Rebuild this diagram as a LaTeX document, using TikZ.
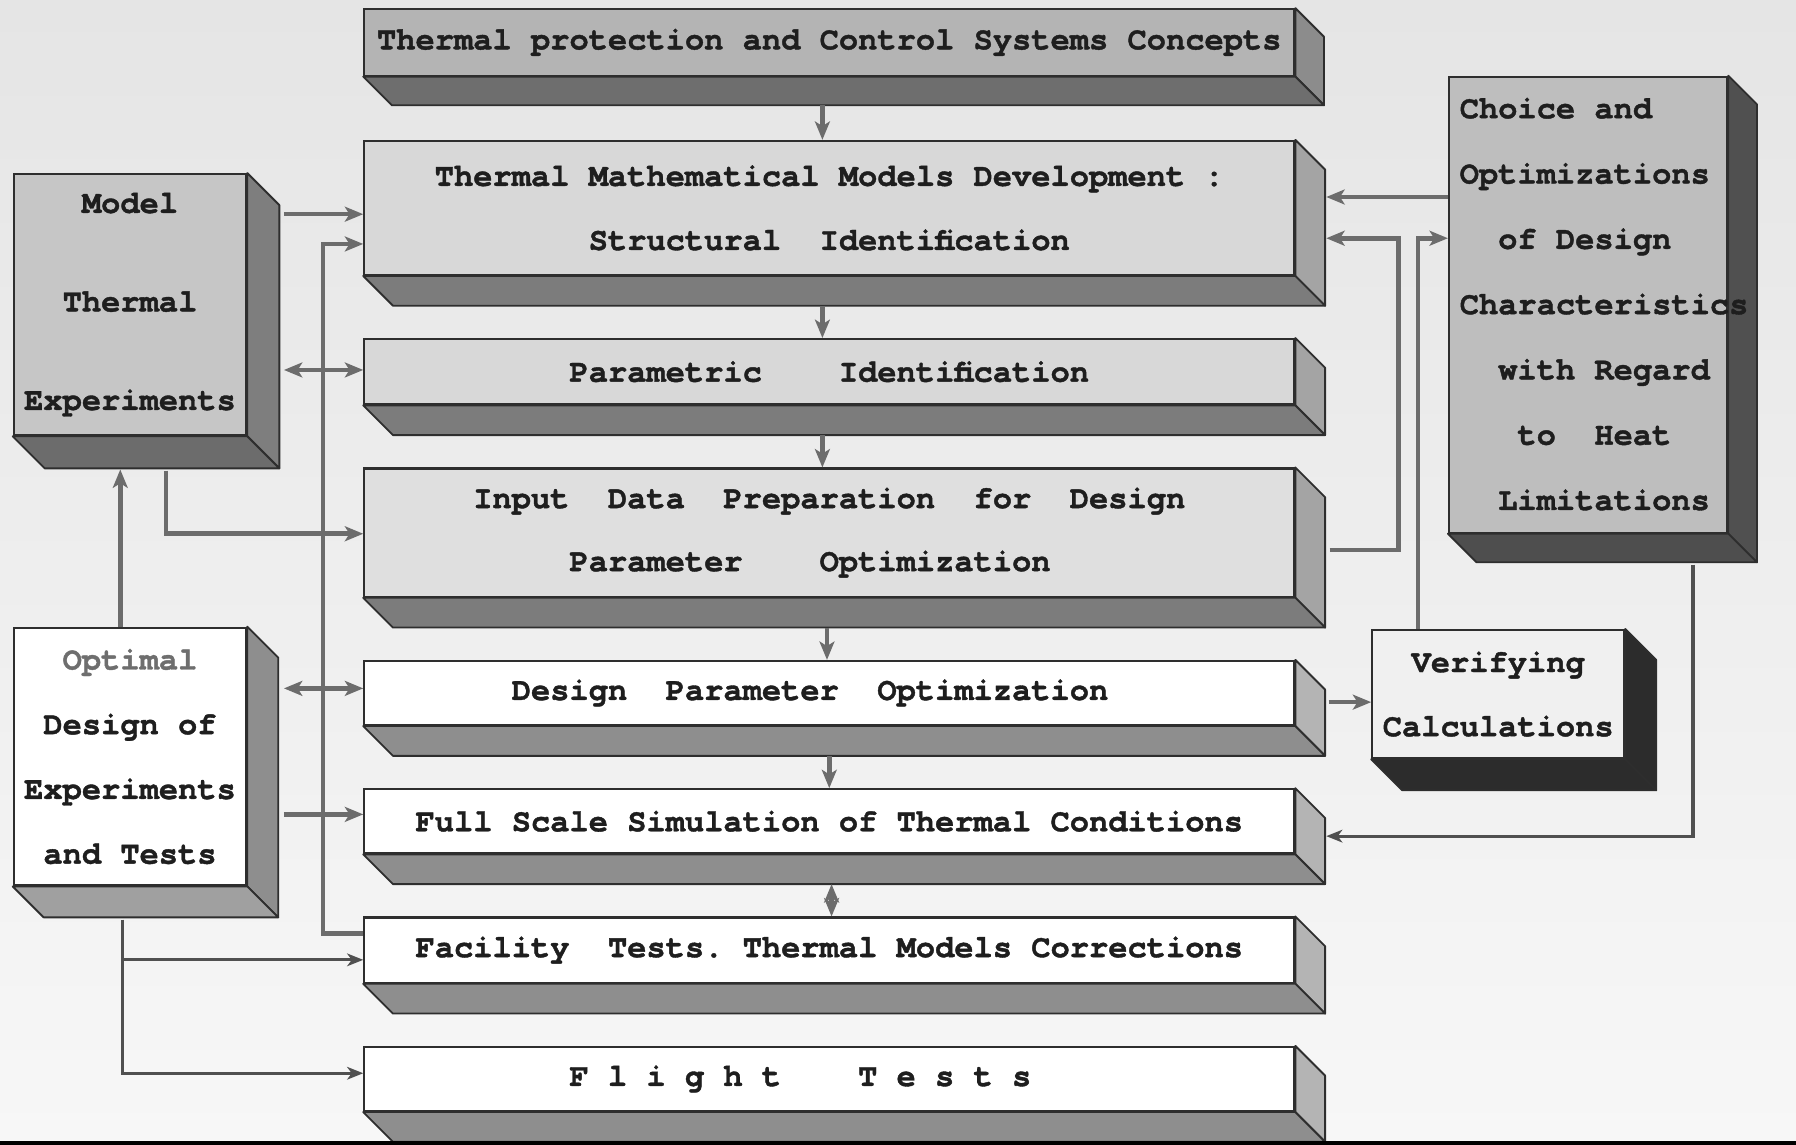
\documentclass[tikz,border=0pt]{standalone}
\usepackage{fontspec}
\setmonofont[BoldFeatures={FakeBold=1.2}]{TeX Gyre Cursor}
\usetikzlibrary{arrows.meta,calc}
\definecolor{bgtop}{HTML}{E5E5E5}
\definecolor{bgbot}{HTML}{F7F7F7}
\definecolor{ink}{HTML}{1E1E1E}
\definecolor{edge}{HTML}{2E2E2E}
\definecolor{agray}{HTML}{6C6C6C}
\definecolor{adark}{HTML}{505050}
\definecolor{optg}{HTML}{6E6E6E}
\definecolor{tzf}{HTML}{B4B4B4}
\definecolor{tzr}{HTML}{8C8C8C}
\definecolor{tzb}{HTML}{6E6E6E}
\definecolor{tf}{HTML}{D8D8D8}
\definecolor{tfc}{HTML}{DFDFDF}
\definecolor{tr}{HTML}{A4A4A4}
\definecolor{tb}{HTML}{7C7C7C}
\definecolor{lof}{HTML}{C6C6C6}
\definecolor{lor}{HTML}{7E7E7E}
\definecolor{lob}{HTML}{6C6C6C}
\definecolor{rof}{HTML}{BEBEBE}
\definecolor{ror}{HTML}{505050}
\definecolor{rob}{HTML}{4E4E4E}
\definecolor{br}{HTML}{B4B4B4}
\definecolor{bb}{HTML}{8E8E8E}
\definecolor{ltr}{HTML}{8E8E8E}
\definecolor{ltb}{HTML}{A0A0A0}
\definecolor{rtf}{HTML}{F0F0F0}
\definecolor{rts}{HTML}{2C2C2C}
\newcommand\slabsides[4]{%
  \filldraw[fill=#3, draw=edge, line width=0.8pt, line join=round]
    (#1.north east) -- ++(#2,#2) -- ($(#1.south east)+(#2,#2)$) -- (#1.south east) -- cycle;
  \filldraw[fill=#4, draw=edge, line width=0.8pt, line join=round]
    (#1.south west) -- (#1.south east) -- ($(#1.south east)+(#2,#2)$) -- ($(#1.south west)+(#2,#2)$) -- cycle;}
\begin{document}
\begin{tikzpicture}[x=0.5pt,y=-0.5pt,
  face/.style={draw=edge, line width=0.9pt, inner sep=0pt, text=ink, align=center,
    font=\ttfamily\bfseries\fontsize{14}{28}\selectfont},
  lsp/.style={font=\ttfamily\bfseries\fontsize{14}{#1}\selectfont},
  wide/.style={face, minimum width=406pt},
  arr/.style={draw=agray, line width=2pt, -{Stealth[length=8pt,width=6.5pt,inset=2pt]}},
  darr/.style={draw=agray, line width=2pt, {Stealth[length=8pt,width=6.5pt,inset=2pt]}-{Stealth[length=8pt,width=6.5pt,inset=2pt]}},
  fline/.style={draw=agray, line width=2pt},
  thinarr/.style={draw=adark, line width=1.4pt, -{Stealth[length=7pt,width=5.5pt,inset=2pt]}},
  thinline/.style={draw=adark, line width=1.4pt}]
\useasboundingbox (0,0) rectangle (1568,999);
\shade[top color=bgtop, bottom color=bgbot] (0,0) rectangle (1568,999);

% central column
\node[wide, minimum height=29pt, fill=tzf] (t0) at (724,37) {Thermal protection and Control Systems Concepts};
\node[wide, minimum height=58.5pt, fill=tf] (t1) at (724,181.5) {Thermal Mathematical Models Development :\\Structural~~Identification};
\node[wide, minimum height=28.5pt, fill=tf] (t2) at (724,324.5) {Parametric~~~~Identification};
\node[wide, minimum height=56pt, fill=tfc, lsp=27.5pt] (t3) at (724,465) {Input~~Data~~Preparation~~for~~Design\\Parameter~~~~Optimization\hspace*{16.8pt}};
\node[wide, minimum height=28pt, fill=white] (b1) at (724,605) {Design~~Parameter~~Optimization\hspace*{16.8pt}};
\node[wide, minimum height=28pt, fill=white] (b2) at (724,717) {Full Scale Simulation of Thermal Conditions};
\node[wide, minimum height=28.5pt, fill=white] (b3) at (724,829.5) {Facility~~Tests.~Thermal Models Corrections};
\node[wide, minimum height=28pt, fill=white] (b4) at (724,942) {F l i g h t~~~~T e s t s\hspace*{25.2pt}};

% left column
\node[face, minimum width=101.5pt, minimum height=114pt, fill=lof, lsp=43pt] (l1) at (113.5,266) {Model\\Thermal\\Experiments};
\node[face, minimum width=101.5pt, minimum height=112.5pt, fill=white, lsp=28.25pt] (l2) at (113.5,660.5) {\textcolor{optg}{Optimal}\\Design of\\Experiments\\and Tests};

% right column
\node[face, minimum width=121.5pt, minimum height=199pt, fill=rof] (r1) at (1386.5,266) {};
\node[face, minimum width=110pt, minimum height=56pt, fill=rtf] (r2) at (1308,606) {Verifying\\Calculations};

% extruded sides
\slabsides{t0}{25}{tzr}{tzb}
\slabsides{t1}{26}{tr}{tb}
\slabsides{t2}{26}{tr}{tb}
\slabsides{t3}{26}{tr}{tb}
\slabsides{b1}{26}{br}{bb}
\slabsides{b2}{26}{br}{bb}
\slabsides{b3}{26}{br}{bb}
\slabsides{b4}{26}{br}{bb}
\slabsides{l1}{28}{lor}{lob}
\slabsides{l2}{27}{ltr}{ltb}
\slabsides{r1}{25}{ror}{rob}
\slabsides{r2}{27}{rts}{rts}

\node[anchor=west, inner sep=0pt, align=left, text=ink, lsp=28.5pt] (r1txt) at (1274,265.5)
  {Choice and\\Optimizations\\\hspace*{16.8pt}of Design\\Characteristics\\\hspace*{16.8pt}with Regard\\\hspace*{25.2pt}to~~Heat\\\hspace*{16.8pt}Limitations};

% vertical flow
\draw[arr] ($(t0.south)+(-6,25)$) -- ($(t1.north)+(-6,0)$);
\draw[arr] ($(t1.south)+(-6,26)$) -- ($(t2.north)+(-6,0)$);
\draw[arr] ($(t2.south)+(-6,26)$) -- ($(t3.north)+(-6,0)$);
\draw[arr] ($(t3.south)+(-2,26)$) -- ($(b1.north)+(-2,0)$);
\draw[arr] ($(b1.south)+(0,26)$) -- ($(b2.north)+(0,0)$);
\draw[darr] ($(b2.south)+(2,26)$) -- ($(b3.north)+(2,0)$);

% left side connectors
\draw[arr] ($(l1.east)+(32,-79)$) -- ($(t1.west)+(0,5.5)$);
\draw[arr] ($(b3.west)+(0,-14.5)$) -- ++(-35,0) |- ($(t1.west)+(0,31.5)$);
\draw[darr] ($(l1.east)+(32,57)$) -- ($(t2.west)+(0,-1.5)$);
\draw[arr] ($(l1.south)+(31.5,30)$) |- ($(t3.west)+(0,1)$);
\draw[arr] ($(l2.north)+(-8.5,0)$) -- ($(l1.south)+(-8.5,29)$);
\draw[darr] ($(l2.east)+(32,-59.5)$) -- ($(b1.west)+(0,-4)$);
\draw[arr] ($(l2.east)+(32,50.5)$) -- ($(b2.west)+(0,-6)$);
\coordinate (l2foot) at ($(l2.south)+(-6.5,29)$);
\coordinate (b3in) at ($(b3.west)+(0,8.5)$);
\draw[thinarr] (l2foot) |- ($(b4.west)+(0,-5)$);
\draw[thinarr] (l2foot |- b3in) -- (b3in);

% right side connectors
\draw[arr] ($(r1.west)+(0,-94)$) -- ($(t1.east)+(27,-9.5)$);
\draw[arr] ($(t3.east)+(30,15)$) -- ++(60,0) |- ($(t1.east)+(27,26.5)$);
\draw[arr] ($(r2.north)+(-70,0)$) |- ($(r1.west)+(0,-58)$);
\draw[arr] ($(b1.east)+(29,8)$) -- ($(r2.west)+(0,7)$);
\draw[thinarr] ($(r1.south)+(91.5,27)$) |- ($(b2.east)+(27,13)$);

% scan edge at the bottom
\draw[line width=1.5pt, black] (0,998) -- (1568,998);
\end{tikzpicture}
\end{document}
